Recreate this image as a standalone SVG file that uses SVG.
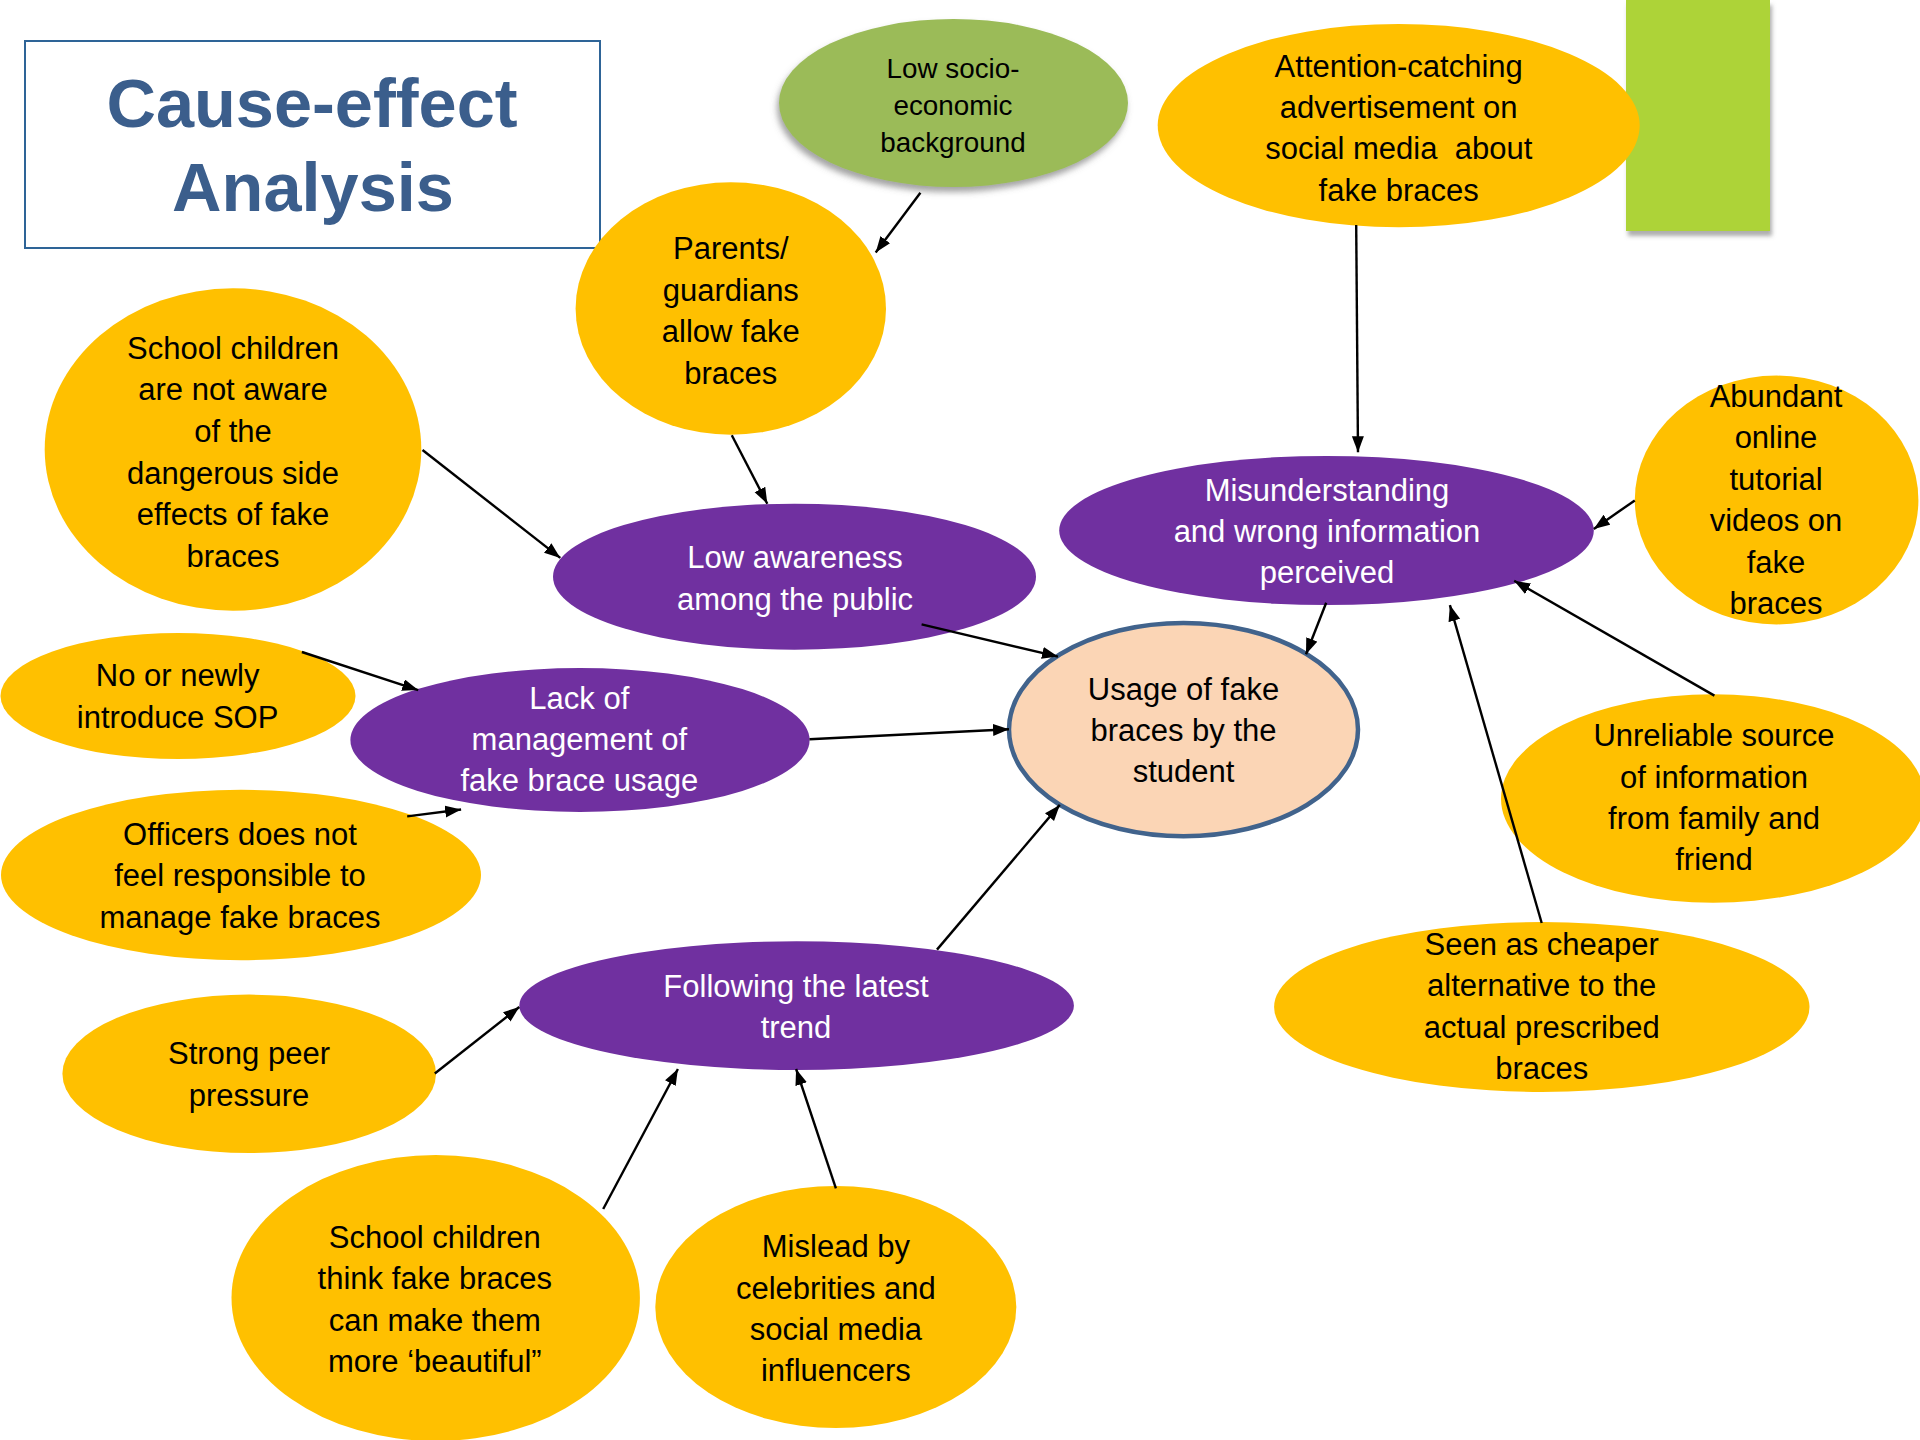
<svg xmlns="http://www.w3.org/2000/svg" width="1920" height="1440" viewBox="0 0 1920 1440">
<style>
.y{fill:#FFC000}
.p{fill:#7030A0}
.t{font-family:"Liberation Sans",Arial,sans-serif;font-size:31px;text-anchor:middle;fill:#000}
.w{fill:#fff}
.conn line{stroke:#000;stroke-width:2.4;marker-end:url(#ah)}
</style>
<defs>
<marker id="ah" markerUnits="userSpaceOnUse" markerWidth="17" markerHeight="13" refX="16" refY="6" orient="auto">
<path d="M0,0 L16,6 L0,12 z" fill="#000"/>
</marker>
<filter id="sh" x="-20%" y="-20%" width="140%" height="150%">
<feDropShadow dx="-2" dy="5" stdDeviation="3" flood-color="#666" flood-opacity="0.6"/>
</filter>
<filter id="sh2" x="-20%" y="-10%" width="140%" height="120%">
<feDropShadow dx="2" dy="5" stdDeviation="2" flood-color="#777" flood-opacity="0.6"/>
</filter>
</defs>
<rect width="1920" height="1440" fill="#fff"/>

<g id="title">
<rect x="25" y="41" width="575" height="207" fill="#fff" stroke="#2E6497" stroke-width="2"/>
<text x="312" y="127" font-family="'Liberation Sans',Arial,sans-serif" font-weight="bold" font-size="68.5" fill="#3B5E8C" text-anchor="middle">Cause-effect</text>
<text x="313" y="211" font-family="'Liberation Sans',Arial,sans-serif" font-weight="bold" font-size="68.5" fill="#3B5E8C" text-anchor="middle">Analysis</text>
</g>

<g id="green-rect">
<rect x="1626" y="0" width="144" height="231" fill="#ADD338" filter="url(#sh2)"/>
</g>

<g id="n-socio">
<ellipse cx="953.5" cy="103" rx="174.5" ry="84" fill="#9BBB59" filter="url(#sh)"/>
<text class="t" style="font-size:27.8px" x="953" y="78">Low socio-</text>
<text class="t" style="font-size:27.8px" x="953" y="114.8">economic</text>
<text class="t" style="font-size:27.8px" x="953" y="151.5">background</text>
</g>

<g id="n-attention">
<ellipse class="y" cx="1398.7" cy="125.6" rx="241" ry="101.7"/>
<text class="t" x="1398.7" y="76.6">Attention-catching</text>
<text class="t" x="1398.7" y="117.9">advertisement on</text>
<text class="t" x="1398.7" y="159.3" xml:space="preserve">social media  about</text>
<text class="t" x="1398.7" y="200.6">fake braces</text>
</g>

<g id="n-parents">
<ellipse class="y" cx="730.8" cy="308.5" rx="155.2" ry="126.3"/>
<text class="t" x="730.8" y="259">Parents/</text>
<text class="t" x="730.8" y="300.6">guardians</text>
<text class="t" x="730.8" y="342.2">allow fake</text>
<text class="t" x="730.8" y="383.8">braces</text>
</g>

<g id="n-notaware">
<ellipse class="y" cx="233" cy="449.5" rx="188.3" ry="161.2"/>
<text class="t" x="233" y="358.5">School children</text>
<text class="t" x="233" y="400.2">are not aware</text>
<text class="t" x="233" y="441.9">of the</text>
<text class="t" x="233" y="483.6">dangerous side</text>
<text class="t" x="233" y="525.3">effects of fake</text>
<text class="t" x="233" y="567">braces</text>
</g>

<g id="n-lowaware">
<ellipse class="p" cx="794.5" cy="576.7" rx="241.5" ry="73"/>
<text class="t w" x="795" y="568.4">Low awareness</text>
<text class="t w" x="795" y="609.7">among the public</text>
</g>

<g id="n-misunder">
<ellipse class="p" cx="1326.5" cy="530.5" rx="267.3" ry="74.6"/>
<text class="t w" x="1327" y="500.5">Misunderstanding</text>
<text class="t w" x="1327" y="541.8">and wrong information</text>
<text class="t w" x="1327" y="583">perceived</text>
</g>

<g id="n-abundant">
<ellipse class="y" cx="1776.6" cy="500" rx="141.8" ry="124.4"/>
<text class="t" x="1776" y="406.8">Abundant</text>
<text class="t" x="1776" y="448.2">online</text>
<text class="t" x="1776" y="489.6">tutorial</text>
<text class="t" x="1776" y="531.1">videos on</text>
<text class="t" x="1776" y="572.5">fake</text>
<text class="t" x="1776" y="613.9">braces</text>
</g>

<g id="n-usage">
<ellipse cx="1183.5" cy="729.6" rx="174.5" ry="106.6" fill="#FBD5B5" stroke="#41638C" stroke-width="4.5"/>
<text class="t" x="1183.5" y="700">Usage of fake</text>
<text class="t" x="1183.5" y="741">braces by the</text>
<text class="t" x="1183.5" y="782">student</text>
</g>

<g id="n-sop">
<ellipse class="y" cx="178" cy="696" rx="177.5" ry="63"/>
<text class="t" x="177.6" y="686.4">No or newly</text>
<text class="t" x="177.6" y="727.8">introduce SOP</text>
</g>

<g id="n-lack">
<ellipse class="p" cx="580" cy="740" rx="229.6" ry="72"/>
<text class="t w" x="579.3" y="709.4">Lack of</text>
<text class="t w" x="579.3" y="750.4">management of</text>
<text class="t w" x="579.3" y="791.4">fake brace usage</text>
</g>

<g id="n-officers">
<ellipse class="y" cx="241" cy="875" rx="240" ry="85.2"/>
<text class="t" x="240" y="844.9">Officers does not</text>
<text class="t" x="240" y="886.2">feel responsible to</text>
<text class="t" x="240" y="927.5">manage fake braces</text>
</g>

<g id="n-unreliable">
<ellipse class="y" cx="1713" cy="798.5" rx="212" ry="104.2"/>
<text class="t" x="1714" y="746.2">Unreliable source</text>
<text class="t" x="1714" y="787.5">of information</text>
<text class="t" x="1714" y="828.8">from family and</text>
<text class="t" x="1714" y="870.1">friend</text>
</g>

<g id="n-cheaper">
<ellipse class="y" cx="1541.8" cy="1007" rx="267.7" ry="85"/>
<text class="t" x="1541.7" y="955">Seen as cheaper</text>
<text class="t" x="1541.7" y="996.4">alternative to the</text>
<text class="t" x="1541.7" y="1037.7">actual prescribed</text>
<text class="t" x="1541.7" y="1079">braces</text>
</g>

<g id="n-trend">
<ellipse class="p" cx="796.6" cy="1005.6" rx="277.3" ry="64.3"/>
<text class="t w" x="796" y="996.9">Following the latest</text>
<text class="t w" x="796" y="1037.5">trend</text>
</g>

<g id="n-peer">
<ellipse class="y" cx="249.2" cy="1073.8" rx="186.8" ry="79.2"/>
<text class="t" x="249" y="1064.4">Strong peer</text>
<text class="t" x="249" y="1105.7">pressure</text>
</g>

<g id="n-beautiful">
<ellipse class="y" cx="435.7" cy="1298" rx="204.2" ry="143"/>
<text class="t" x="434.8" y="1248">School children</text>
<text class="t" x="434.8" y="1289.3">think fake braces</text>
<text class="t" x="434.8" y="1330.6">can make them</text>
<text class="t" x="434.8" y="1372">more ‘beautiful”</text>
</g>

<g id="n-mislead">
<ellipse class="y" cx="835.8" cy="1307" rx="180.5" ry="121"/>
<text class="t" x="835.9" y="1257.2">Mislead by</text>
<text class="t" x="835.9" y="1298.5">celebrities and</text>
<text class="t" x="835.9" y="1339.8">social media</text>
<text class="t" x="835.9" y="1381.2">influencers</text>
</g>

<g id="connectors" class="conn">
<line x1="920.4" y1="192.8" x2="875.7" y2="252.5"/>
<line x1="731.8" y1="435.3" x2="767.3" y2="503.7"/>
<line x1="422.5" y1="450" x2="560.3" y2="557.9"/>
<line x1="921.6" y1="624.4" x2="1058" y2="656.6"/>
<line x1="1356.2" y1="225" x2="1358" y2="452.2"/>
<line x1="1634.8" y1="500.4" x2="1593.8" y2="528.9"/>
<line x1="1326.2" y1="602.8" x2="1306" y2="654.3"/>
<line x1="1714.4" y1="695.6" x2="1514.2" y2="580.8"/>
<line x1="1541.7" y1="923" x2="1449.9" y2="605.1"/>
<line x1="301.9" y1="652" x2="418.2" y2="690.1"/>
<line x1="407.2" y1="816.4" x2="461.1" y2="809.5"/>
<line x1="809.5" y1="739.3" x2="1009" y2="729.2"/>
<line x1="937" y1="949.6" x2="1059.8" y2="804.9"/>
<line x1="434.8" y1="1073.5" x2="519.3" y2="1007"/>
<line x1="603.2" y1="1209" x2="677.9" y2="1069"/>
<line x1="835.9" y1="1188.3" x2="796.1" y2="1069"/>
</g>
</svg>
